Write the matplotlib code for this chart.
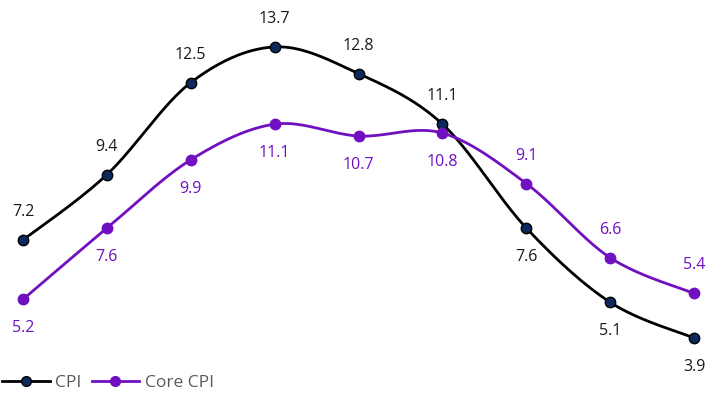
import numpy as np
import matplotlib
matplotlib.use("Agg")
import matplotlib.pyplot as plt
from matplotlib.lines import Line2D

periods = list(range(9))
cpi = [7.2, 9.4, 12.5, 13.7, 12.8, 11.1, 7.6, 5.1, 3.9]
core_cpi = [5.2, 7.6, 9.9, 11.1, 10.7, 10.8, 9.1, 6.6, 5.4]
cpi_label_pos = ["above"] * 6 + ["below"] * 3
core_label_pos = ["below"] * 6 + ["above"] * 3

CPI_LINE = "#000000"
CPI_MARK = "#0b2a5b"
CORE = "#7010c0"


def smooth(x, y, n=40):
    """Cubic Bezier smoothing with control points at 1/6 of neighbour span."""
    x = np.asarray(x, float)
    y = np.asarray(y, float)
    pts = np.column_stack([x, y])
    out = []
    for i in range(len(pts) - 1):
        p0 = pts[i - 1] if i > 0 else pts[i]
        p1 = pts[i]
        p2 = pts[i + 1]
        p3 = pts[i + 2] if i + 2 < len(pts) else pts[i + 1]
        c1 = p1 + (p2 - p0) / 6.0
        c2 = p2 - (p3 - p1) / 6.0
        t = np.linspace(0, 1, n)[:, None]
        seg = ((1 - t) ** 3) * p1 + 3 * ((1 - t) ** 2) * t * c1 + 3 * (1 - t) * t ** 2 * c2 + t ** 3 * p2
        out.append(seg if i == 0 else seg[1:])
    seg = np.vstack(out)
    return seg[:, 0], seg[:, 1]


plt.rcParams["font.family"] = ["Open Sans", "DejaVu Sans"]

fig = plt.figure(figsize=(7.18, 3.94), dpi=100)
ax = fig.add_axes([0, 0, 1, 1])
ax.set_xlim(-0.274, 8.284)
ax.set_ylim(2.015, 15.28)
ax.axis("off")

for vals, line_c, mark_c, edge_c, pos, txt_c in [
    (cpi, CPI_LINE, CPI_MARK, "#000000", cpi_label_pos, "#1a1a1a"),
    (core_cpi, CORE, CORE, CORE, core_label_pos, CORE),
]:
    sx, sy = smooth(periods, vals)
    ax.plot(sx, sy, color=line_c, lw=2.0, solid_capstyle="round", zorder=2)
    ax.plot(periods, vals, "o", ms=7.5, mfc=mark_c, mec=edge_c, mew=1.0, zorder=3)
    for xi, v, p in zip(periods, vals, pos):
        dy = 28 if p == "above" else -29
        ax.annotate(f"{v:.1f}", (xi, v), xytext=(0, dy), textcoords="offset pixels",
                    ha="center", va="center", fontsize=11.5, color=txt_c)

handles = [
    Line2D([], [], color=CPI_LINE, lw=2.0, marker="o", ms=7, mfc=CPI_MARK, mec="#000000"),
    Line2D([], [], color=CORE, lw=2.0, marker="o", ms=7, mfc=CORE, mec=CORE),
]
fig.legend(handles, ["CPI", "Core CPI"], loc="center left", bbox_to_anchor=(-0.019, 0.028),
           ncol=2, frameon=False, fontsize=12.5, handlelength=2.75, handletextpad=0.3,
           columnspacing=0.6, labelcolor="#595959")

fig.savefig("out.png", dpi=100)
